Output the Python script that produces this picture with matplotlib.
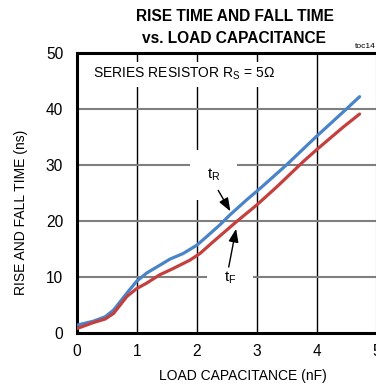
import matplotlib
matplotlib.use("Agg")
import matplotlib.pyplot as plt

plt.rcParams["font.family"] = ["Liberation Sans", "DejaVu Sans"]

# data
rise_x = [0.0, 0.27, 0.47, 0.61, 0.83, 0.99, 1.16, 1.38, 1.55, 1.77, 2.0, 2.16, 2.38, 2.55, 2.83, 3.05, 3.49, 3.99, 4.49, 4.71]
rise_y = [1.4, 2.1, 2.9, 4.1, 7.1, 9.2, 10.7, 12.1, 13.2, 14.2, 15.7, 17.2, 19.3, 21.1, 23.8, 25.8, 30.0, 35.1, 40.0, 42.2]
fall_x = [0.0, 0.27, 0.47, 0.61, 0.83, 0.99, 1.16, 1.38, 1.6, 1.88, 2.05, 2.27, 2.66, 3.0, 3.33, 3.77, 3.99, 4.44, 4.71]
fall_y = [0.8, 1.85, 2.5, 3.5, 6.5, 7.9, 8.9, 10.4, 11.5, 13.0, 14.2, 16.3, 19.9, 22.9, 26.1, 30.6, 32.7, 36.8, 39.1]
x_ticks = [0, 1, 2, 3, 4, 5]
y_ticks = [0, 10, 20, 30, 40, 50]

fig = plt.figure(figsize=(3.76, 3.88), dpi=100)
ax = fig.add_axes([77/376, 55/388, 300/376, 280/388])
ax.set_xlim(0, 5)
ax.set_ylim(0, 50)

for xv in x_ticks[1:-1]:
    ax.axvline(xv, color="black", lw=1.0, zorder=1)
for yv in y_ticks[1:-1]:
    ax.axhline(yv, color="#7f7f7f", lw=1.5, zorder=1)

ax.plot(rise_x, rise_y, color="#4a84c8", lw=2.3, zorder=3, solid_capstyle="round")
ax.plot(fall_x, fall_y, color="#c4403e", lw=2.3, zorder=3, solid_capstyle="round")

for s in ax.spines.values():
    s.set_linewidth(2.2)
    s.set_color("black")

ax.set_xticks(x_ticks)
ax.set_yticks(y_ticks)
ax.tick_params(length=0, labelsize=11.2)
ax.tick_params(axis="y", pad=10)
ax.tick_params(axis="x", pad=8)
ax.set_xlabel("LOAD CAPACITANCE (nF)", fontsize=10)
ax.xaxis.set_label_coords(243/376, 1 - 369/388, transform=fig.transFigure)
ax.set_ylabel("RISE AND FALL TIME (ns)", fontsize=10)
ax.yaxis.set_label_coords(28/376, 1 - 212/388, transform=fig.transFigure)

box = dict(facecolor="white", edgecolor="none", pad=3)
ax.text(0.27, 46.2, "SERIES RESISTOR R$_\\mathregular{S}$ = 5\u03a9", fontsize=10,
        ha="left", va="center", bbox=box, zorder=4)
ax.text(2.28, 28.2, "t$_\\mathregular{R}$", fontsize=11, ha="center", va="center",
        bbox=dict(facecolor="white", edgecolor="none", pad=12), zorder=4)
ax.text(2.55, 9.9, "t$_\\mathregular{F}$", fontsize=11, ha="center", va="center",
        bbox=dict(facecolor="white", edgecolor="none", pad=12), zorder=4)
arrow = dict(arrowstyle="-|>,head_length=0.8,head_width=0.3", color="black", lw=1.0)
ax.annotate("", xy=(2.58, 21.3), xytext=(2.33, 25.9), arrowprops=arrow, zorder=5)
ax.annotate("", xy=(2.66, 19.1), xytext=(2.52, 11.3), arrowprops=arrow, zorder=5)

fig.text(235/376, 1 - 21/388, "RISE TIME AND FALL TIME", ha="center", va="baseline",
         fontsize=11.2, fontweight="bold")
fig.text(234/376, 1 - 43/388, "vs. LOAD CAPACITANCE", ha="center", va="baseline",
         fontsize=11.2, fontweight="bold")
fig.text(355/376, 1 - 46/388, "toc14", fontsize=6, ha="left", va="center")

fig.savefig("out.png", dpi=100)
